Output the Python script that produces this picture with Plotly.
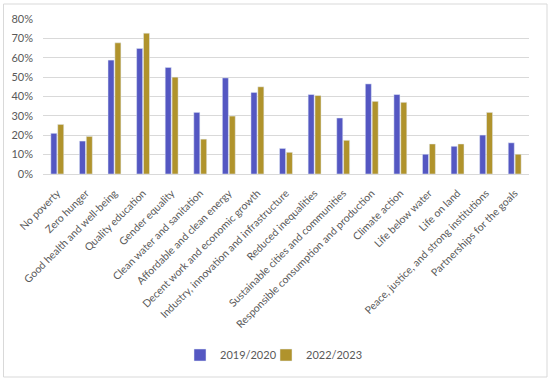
import plotly.graph_objects as go

categories = [
    "No poverty", "Zero hunger", "Good health and well-being", "Quality education",
    "Gender equality", "Clean water and sanitation", "Affordable and clean energy",
    "Decent work and economic growth", "Industry, innovation and infrastructure",
    "Reduced inequalities", "Sustainable cities and communities",
    "Responsible consumption and production", "Climate action", "Life below water",
    "Life on land", "Peace, justice, and strong institutions", "Partnerships for the goals",
]
s2019 = [21, 17, 58.8, 64.8, 55, 31.8, 49.6, 42.1, 13.2, 41, 28.9, 46.5, 41, 10.2, 14.3, 20.1, 16.1]
s2022 = [25.6, 19.4, 67.7, 72.7, 50, 18, 29.9, 45, 11.2, 40.5, 17.4, 37.5, 37, 15.5, 15.5, 31.8, 10.2]
yticks = [0, 10, 20, 30, 40, 50, 60, 70, 80]
ytick_text = [f"{v}%" for v in yticks]

W, H = 550, 380
L, R, T, B = 43, 21, 19, 206
pw, ph = W - L - R, H - T - B

FONT = "Lato, Liberation Sans, Arial, sans-serif"
GREY = "#595959"

fig = go.Figure()
fig.add_trace(go.Bar(x=categories, y=s2019, name="2019/2020", marker_color="#5457C2",
                     legend="legend"))
fig.add_trace(go.Bar(x=categories, y=s2022, name="2022/2023", marker_color="#B0932C",
                     legend="legend2"))

leg_y = (T + ph - 355) / ph
leg_common = dict(orientation="h", xanchor="left", y=leg_y, yanchor="middle",
                  font=dict(family=FONT, size=11, color=GREY), itemwidth=30,
                  bgcolor="rgba(0,0,0,0)")

fig.update_layout(
    width=W, height=H,
    margin=dict(l=L, r=R, t=T, b=B, autoexpand=False),
    paper_bgcolor="white", plot_bgcolor="white",
    font=dict(family=FONT, size=11, color=GREY),
    barmode="group", bargap=0.52, bargroupgap=0.12,
    showlegend=True,
    legend=dict(x=(180 - L) / pw, **leg_common),
    legend2=dict(x=(266 - L) / pw, **leg_common),
    xaxis=dict(tickangle=-45, showgrid=False, showline=True, linecolor="#D9D9D9",
               ticks="", automargin=False, ticklabelstandoff=8,
               tickfont=dict(family=FONT, size=10.5, color=GREY)),
    yaxis=dict(range=[0, 80], tickvals=yticks, ticktext=ytick_text, showgrid=True,
               gridcolor="#D9D9D9", zeroline=False, showline=False, ticks="",
               ticklabelstandoff=9,
               automargin=False, tickfont=dict(family=FONT, size=11, color=GREY)),
    shapes=[dict(type="rect", xref="paper", yref="paper",
                 x0=(3.5 - L) / pw, x1=(547 - L) / pw,
                 y0=(T + ph - 377) / ph, y1=(T + ph - 4) / ph,
                 line=dict(color="#D9D9D9", width=1), layer="below")],
)

fig.write_html("out.html", config={"displayModeBar": False},
               post_script="document.body.style.margin='0';document.body.style.overflow='hidden';")
